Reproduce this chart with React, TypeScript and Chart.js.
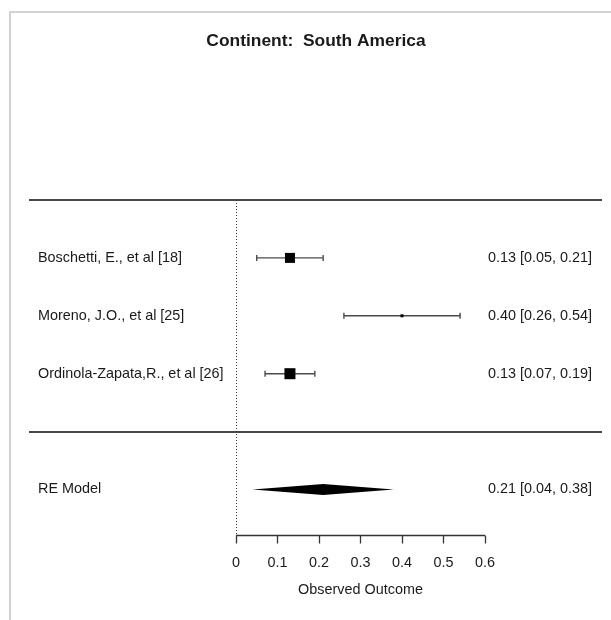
import React, { useEffect, useRef } from "react";
import { Chart, registerables } from "chart.js";

Chart.register(...registerables);

// Forest plot data: one row per study, plus the random-effects summary
const chartTitle = "Continent:  South America";
const studyLabels = [
  "Boschetti, E., et al [18]",
  "Moreno, J.O., et al [25]",
  "Ordinola-Zapata,R., et al [26]",
];
const estimates = [0.13, 0.4, 0.13];
const ciLower = [0.05, 0.26, 0.07];
const ciUpper = [0.21, 0.54, 0.19];

const summaryLabel = "RE Model";
const summaryEstimate = 0.21;
const summaryLower = 0.04;
const summaryUpper = 0.38;

const xTicks = [0, 0.1, 0.2, 0.3, 0.4, 0.5, 0.6];
const xTickLabels = ["0", "0.1", "0.2", "0.3", "0.4", "0.5", "0.6"];
const xAxisTitle = "Observed Outcome";

// row layout (y units): studies from the top, a blank row, then the summary
const studyRows = studyLabels.map((_, i) => 5 - i);
const summaryRow = 1;
const topRuleRow = 6;
const bottomRuleRow = 2;
const axisRow = 0.215;

// box side (px) per study, proportional to its weight
const boxSides = [10, 3, 11];

const FONT = "'Liberation Sans', Arial, Helvetica, sans-serif";
const fmt = (v: number) => v.toFixed(2);

const forestPlugin = {
  id: "forestDecor",
  beforeDatasetsDraw(chart: any) {
    const { ctx } = chart;
    const xs = chart.scales.x;
    const ys = chart.scales.y;
    const x0 = xs.getPixelForValue(0);
    const yTop = ys.getPixelForValue(topRuleRow);
    const yAxis = ys.getPixelForValue(axisRow);

    ctx.save();
    // outer frame
    ctx.strokeStyle = "#d2d2d2";
    ctx.lineWidth = 2;
    ctx.beginPath();
    ctx.moveTo(10, 620);
    ctx.lineTo(10, 12);
    ctx.lineTo(611, 12);
    ctx.stroke();

    // horizontal rules
    ctx.strokeStyle = "#484848";
    ctx.lineWidth = 2;
    for (const r of [topRuleRow, bottomRuleRow]) {
      const y = Math.round(ys.getPixelForValue(r));
      ctx.beginPath();
      ctx.moveTo(29, y);
      ctx.lineTo(602, y);
      ctx.stroke();
    }

    // reference line at zero
    ctx.strokeStyle = "#333";
    ctx.lineWidth = 1;
    ctx.setLineDash([1, 2]);
    ctx.beginPath();
    ctx.moveTo(Math.round(x0) + 0.5, yTop);
    ctx.lineTo(Math.round(x0) + 0.5, yAxis);
    ctx.stroke();
    ctx.setLineDash([]);

    // summary diamond
    const yS = ys.getPixelForValue(summaryRow);
    ctx.fillStyle = "#000";
    ctx.beginPath();
    ctx.moveTo(xs.getPixelForValue(summaryLower), yS);
    ctx.lineTo(xs.getPixelForValue(summaryEstimate), yS - 5.5);
    ctx.lineTo(xs.getPixelForValue(summaryUpper), yS);
    ctx.lineTo(xs.getPixelForValue(summaryEstimate), yS + 5.5);
    ctx.closePath();
    ctx.fill();

    // x axis
    const ax = Math.round(yAxis) + 0.5;
    ctx.strokeStyle = "#333";
    ctx.lineWidth = 1.3;
    ctx.beginPath();
    ctx.moveTo(xs.getPixelForValue(xTicks[0]), ax);
    ctx.lineTo(xs.getPixelForValue(xTicks[xTicks.length - 1]), ax);
    ctx.stroke();
    for (const t of xTicks) {
      const px = Math.round(xs.getPixelForValue(t)) + 0.5;
      ctx.beginPath();
      ctx.moveTo(px, ax);
      ctx.lineTo(px, ax + 8);
      ctx.stroke();
    }

    ctx.fillStyle = "#1a1a1a";
    ctx.font = `14.4px ${FONT}`;
    ctx.textBaseline = "middle";
    ctx.textAlign = "center";
    xTicks.forEach((t, i) => {
      ctx.fillText(xTickLabels[i], xs.getPixelForValue(t), yAxis + 28);
    });
    const mid = (xs.getPixelForValue(xTicks[0]) + xs.getPixelForValue(xTicks[xTicks.length - 1])) / 2;
    ctx.fillText(xAxisTitle, mid, yAxis + 55);

    // row labels and estimates
    studyLabels.forEach((lab, i) => {
      const y = ys.getPixelForValue(studyRows[i]);
      ctx.textAlign = "left";
      ctx.fillText(lab, 38, y);
      ctx.textAlign = "right";
      ctx.fillText(`${fmt(estimates[i])} [${fmt(ciLower[i])}, ${fmt(ciUpper[i])}]`, 592, y);
    });
    ctx.textAlign = "left";
    ctx.fillText(summaryLabel, 38, yS);
    ctx.textAlign = "right";
    ctx.fillText(`${fmt(summaryEstimate)} [${fmt(summaryLower)}, ${fmt(summaryUpper)}]`, 592, yS);

    // title
    ctx.font = `bold 17.4px ${FONT}`;
    ctx.textAlign = "center";
    ctx.fillText(chartTitle, 316, 41);
    ctx.restore();
  },
};

export default function App() {
  const ref = useRef<HTMLCanvasElement | null>(null);

  useEffect(() => {
    if (!ref.current) return;

    const boxes = {
      data: estimates.map((e, i) => ({ x: e, y: studyRows[i] })),
      pointStyle: "rect",
      pointRadius: boxSides.map((s) => s / Math.SQRT2),
      backgroundColor: "#000",
      borderColor: "#000",
      borderWidth: 0,
      showLine: false,
    };

    const whiskers = studyLabels.map((_, i) => ({
      data: [
        { x: ciLower[i], y: studyRows[i] },
        { x: ciUpper[i], y: studyRows[i] },
      ],
      showLine: true,
      borderColor: "#4a4a4a",
      borderWidth: 1.4,
      pointStyle: "line",
      rotation: 90,
      pointRadius: 3,
      pointBorderWidth: 1.4,
      pointBorderColor: "#4a4a4a",
    }));

    // pixel mapping: 0 -> 236, 0.6 -> 485 ; row 6 -> 200, row 1 -> 489.5
    const xPerPx = 0.6 / 249;
    const xMin = -236 * xPerPx;
    const xMax = xMin + 611 * xPerPx;
    const yPerPx = 5 / 289.5;
    const yMax = topRuleRow + 200 * yPerPx;
    const yMin = yMax - 620 * yPerPx;

    const chart = new Chart(ref.current, {
      type: "scatter",
      data: { datasets: [boxes as any, ...(whiskers as any[])] },
      options: {
        animation: false,
        responsive: false,
        devicePixelRatio: 1,
        layout: { padding: 0, autoPadding: false },
        plugins: { legend: { display: false }, tooltip: { enabled: false }, title: { display: false } },
        scales: {
          x: { type: "linear", min: xMin, max: xMax, display: false },
          y: { type: "linear", min: yMin, max: yMax, display: false },
        },
        elements: { point: { hitRadius: 0 } },
      },
      plugins: [forestPlugin],
    });
    return () => chart.destroy();
  }, []);

  return (
    <div style={{ position: "fixed", left: 0, top: 0, width: 611, height: 620, background: "#fff" }}>
      <canvas ref={ref} width={611} height={620} style={{ display: "block" }} />
    </div>
  );
}
